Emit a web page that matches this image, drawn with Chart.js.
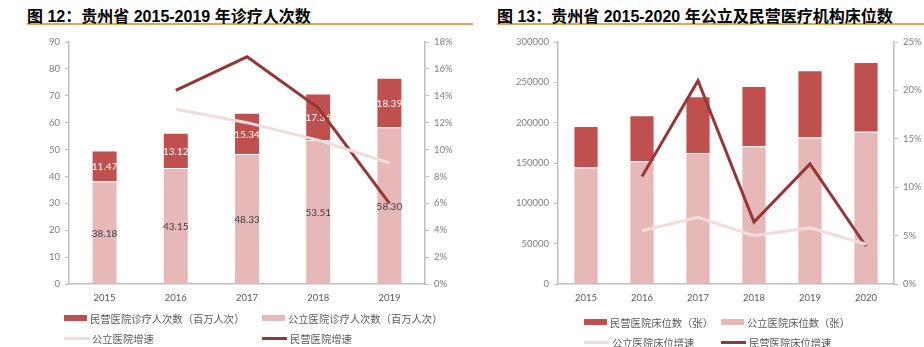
<!DOCTYPE html>
<html>
<head>
<meta charset="utf-8">
<script src="https://cdn.jsdelivr.net/npm/chart.js@4.4.1/dist/chart.umd.min.js"></script>
<style>
  body { margin: 0; width: 924px; height: 347px; background: #fff; position: relative; overflow: hidden; }
  .title {
    position: absolute; top: 3px; height: 20px; line-height: 20px;
    font: bold 16px "Liberation Sans", "Noto Sans CJK SC", sans-serif; color: #000;
    border-bottom: 2px solid #E2A35A; white-space: nowrap;
  }
  .plot { position: absolute; top: 28px; height: 284px; }
  .legend {
    position: absolute; display: grid; font: 10.3px "Noto Sans CJK SC", sans-serif; color: #595959;
  }
  .legend div { display: flex; align-items: center; white-space: nowrap; }
  .legend span.mark { display: inline-block; margin-right: 3px; }
</style>
</head>
<body>
<div class="title" style="left:27px;width:446px">图 12：贵州省 2015-2019 年诊疗人次数</div>
<div class="title" style="left:497px;width:427px">图 13：贵州省 2015-2020 年公立及民营医疗机构床位数</div>

<div class="plot" style="left:20px;width:450px"><canvas id="visitChart"></canvas></div>
<div class="plot" style="left:490px;width:434px"><canvas id="bedChart"></canvas></div>

<div class="legend" id="visitLegend" style="left:64px;top:308px;grid-template-columns:198px 198px;grid-auto-rows:20px"></div>
<div class="legend" id="bedLegend" style="left:584px;top:312px;grid-template-columns:137px 160px;grid-auto-rows:20px"></div>

<script>
// 诊疗人次数（百万人次）
var years1 = ["2015", "2016", "2017", "2018", "2019"];
var publicVisits = [38.18, 43.15, 48.33, 53.51, 58.30];
var privateVisits = [11.47, 13.12, 15.34, 17.36, 18.39];
var publicVisitGrowth = [null, 13.0, 12.0, 10.7, 9.0];
var privateVisitGrowth = [null, 14.4, 16.9, 13.1, 6.0];

// 床位数（张）
var years2 = ["2015", "2016", "2017", "2018", "2019", "2020"];
var publicBeds = [144500, 152300, 162500, 170800, 181600, 188600];
var privateBeds = [51500, 56900, 70200, 74700, 83400, 86600];
var publicBedGrowth = [null, 5.5, 6.9, 5.0, 5.8, 4.1];
var privateBedGrowth = [null, 11.1, 21.0, 6.4, 12.4, 3.9];

var DARK_BAR = "#C0504D", LIGHT_BAR = "#E6B9B8";
var DARK_LINE = "#953735", LIGHT_LINE = "#F2DCDB";
var AXIS = "#BFBFBF";

Chart.defaults.font.family = "Lato";
Chart.defaults.font.size = 9.5;
Chart.defaults.color = "#7F7F7F";

// values printed in the middle of each stacked segment
var barLabels = {
  id: "barLabels",
  afterDatasetDraw: function(chart, args) {
    var ds = chart.data.datasets[args.index];
    if (!ds.labelColor) return;
    var ctx = chart.ctx;
    ctx.save();
    ctx.font = "10px Lato";
    ctx.textAlign = "center";
    ctx.textBaseline = "middle";
    ctx.fillStyle = ds.labelColor;
    args.meta.data.forEach(function(bar, j) {
      var p = bar.getProps(["x", "y", "base"], true);
      ctx.fillText(ds.data[j].toFixed(2), p.x, (p.y + p.base) / 2 + 1);
    });
    ctx.restore();
  }
};

function yAxis(pos, max, step, width, fmt) {
  return {
    position: pos, min: 0, max: max,
    stacked: pos === "left",
    grid: { drawOnChartArea: false, drawTicks: true, tickLength: 4, color: AXIS },
    border: { display: true, color: AXIS, width: 1.5 },
    ticks: { stepSize: step, padding: 5, callback: fmt },
    afterFit: function(s) { s.width = width; }
  };
}

function options(leftMax, leftStep, leftWidth, rightMax, rightStep, rightWidth) {
  return {
    responsive: true,
    maintainAspectRatio: false,
    animation: false,
    layout: { padding: { top: 14, left: 0, right: 0, bottom: 0 } },
    plugins: { legend: { display: false }, tooltip: { enabled: false } },
    scales: {
      x: {
        stacked: true,
        grid: { display: false, drawTicks: false },
        border: { display: true, color: AXIS, width: 1.5 },
        ticks: { color: "#595959", padding: 8 },
        afterFit: function(s) { s.height = 28; }
      },
      y: yAxis("left", leftMax, leftStep, leftWidth, function(v) { return String(v); }),
      y1: yAxis("right", rightMax, rightStep, rightWidth, function(v) { return v + "%"; })
    }
  };
}

function lineSet(label, data, color) {
  return { type: "line", label: label, data: data, yAxisID: "y1", borderColor: color, backgroundColor: color,
           borderWidth: 3, pointRadius: 0, tension: 0, order: 0 };
}

function barSet(label, data, color, labelColor, width) {
  return { label: label, data: data, yAxisID: "y", backgroundColor: color, labelColor: labelColor,
           borderColor: "rgba(255,255,255,0.45)", borderWidth: { top: 1, left: 1, right: 1 },
           categoryPercentage: 1, barPercentage: width, order: 1 };
}

// HTML legend, two columns: bars on the first row, lines on the second
function buildLegend(chart, el, order) {
  order.forEach(function(i) {
    var ds = chart.data.datasets[i];
    var item = document.createElement("div");
    var mark = document.createElement("span");
    mark.className = "mark";
    if (ds.type === "line") {
      mark.style.width = "25px"; mark.style.height = "3px"; mark.style.background = ds.borderColor;
    } else {
      mark.style.width = "23px"; mark.style.height = "6px"; mark.style.background = ds.backgroundColor;
    }
    item.appendChild(mark);
    item.appendChild(document.createTextNode(ds.label));
    el.appendChild(item);
  });
}

var visitChart = new Chart(document.getElementById("visitChart"), {
  type: "bar",
  data: {
    labels: years1,
    datasets: [
      barSet("公立医院诊疗人次数（百万人次）", publicVisits, LIGHT_BAR, "#404040", 0.365),
      barSet("民营医院诊疗人次数（百万人次）", privateVisits, DARK_BAR, "#FFFFFF", 0.365),
      lineSet("公立医院增速", publicVisitGrowth, LIGHT_LINE),
      lineSet("民营医院增速", privateVisitGrowth, DARK_LINE)
    ]
  },
  options: options(90, 10, 49, 18, 2, 45),
  plugins: [barLabels]
});
buildLegend(visitChart, document.getElementById("visitLegend"), [1, 0, 2, 3]);

var bedChart = new Chart(document.getElementById("bedChart"), {
  type: "bar",
  data: {
    labels: years2,
    datasets: [
      barSet("公立医院床位数（张）", publicBeds, LIGHT_BAR, null, 0.45),
      barSet("民营医院床位数（张）", privateBeds, DARK_BAR, null, 0.45),
      lineSet("公立医院床位增速", publicBedGrowth, LIGHT_LINE),
      lineSet("民营医院床位增速", privateBedGrowth, DARK_LINE)
    ]
  },
  options: options(300000, 50000, 68, 25, 5, 30),
  plugins: [barLabels]
});
buildLegend(bedChart, document.getElementById("bedLegend"), [1, 0, 2, 3]);
</script>
</body>
</html>
